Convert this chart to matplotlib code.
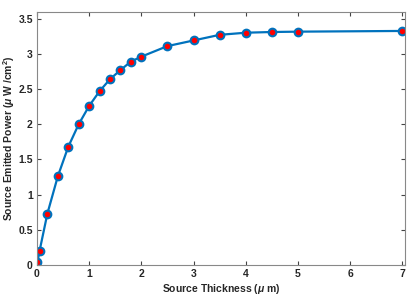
import matplotlib
matplotlib.use('Agg')
import matplotlib.pyplot as plt

thickness = [0.01, 0.05, 0.2, 0.4, 0.6, 0.8, 1.0, 1.2, 1.4, 1.6, 1.8, 2.0,
             2.5, 3.0, 3.5, 4.0, 4.5, 5.0, 7.0]
power = [0.04, 0.20, 0.73, 1.26, 1.68, 2.00, 2.26, 2.47, 2.64, 2.77, 2.89, 2.96,
         3.11, 3.19, 3.27, 3.30, 3.31, 3.315, 3.325]
xticks = [0, 1, 2, 3, 4, 5, 6, 7]
yticks = [0, 0.5, 1, 1.5, 2, 2.5, 3, 3.5]
yticklabels = ['0', '0.5', '1', '1.5', '2', '2.5', '3', '3.5']

plt.rcParams['font.family'] = ['Liberation Sans', 'DejaVu Sans']
plt.rcParams['mathtext.fontset'] = 'custom'
plt.rcParams['mathtext.rm'] = 'Liberation Sans:bold'
plt.rcParams['mathtext.it'] = 'Liberation Sans:italic:bold'
plt.rcParams['mathtext.bf'] = 'Liberation Sans:bold'

fig = plt.figure(figsize=(4.15, 3.05), dpi=100)
ax = fig.add_axes([0.089, 0.131, 0.887, 0.831])

ax.plot(thickness, power, color='#0072BD', linewidth=1.6, marker='o',
        markersize=5.5, markerfacecolor='red', markeredgecolor='#0072BD',
        markeredgewidth=1.5)

ax.set_xlim(0, 7.05)
ax.set_ylim(0, 3.6)
ax.set_xticks(xticks)
ax.set_yticks(yticks)
ax.set_yticklabels(yticklabels)

gray = '#262626'
for s in ax.spines.values():
    s.set_color('#888888')
    s.set_linewidth(0.8)
ax.tick_params(direction='in', length=3, width=0.8, color='#444444',
               labelsize=7.5, labelcolor=gray, top=True, right=True, pad=3)
for lbl in ax.get_xticklabels() + ax.get_yticklabels():
    lbl.set_fontweight('bold')

ax.set_xlabel(r'Source Thickness ($\mu$ m)', fontsize=7.5, fontweight='bold',
              color=gray, labelpad=2)
ax.set_ylabel(r'Source Emitted Power ($\mu$ W /cm$^{2}$)', fontsize=7.5,
              fontweight='bold', color=gray, labelpad=1)

fig.savefig('out.png', dpi=100)
